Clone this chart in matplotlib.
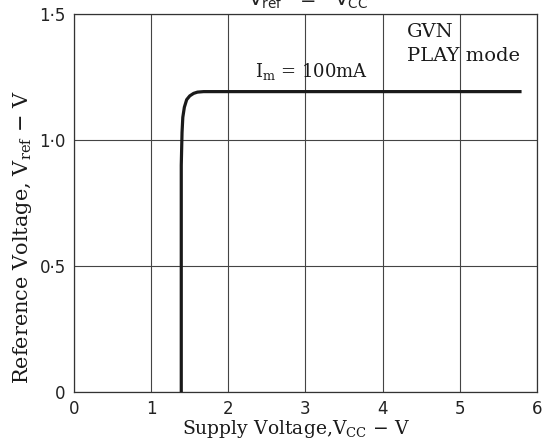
import matplotlib.pyplot as plt

plt.rcParams['mathtext.fontset'] = 'dejavuserif'

# supply voltage (V) vs reference voltage (V)
vcc = [1.39, 1.39, 1.40, 1.41, 1.43, 1.46, 1.50, 1.55, 1.60, 1.68, 5.80]
vref = [0.0, 0.90, 1.03, 1.09, 1.13, 1.16, 1.175, 1.185, 1.19, 1.192, 1.192]

x_ticks = [0, 1, 2, 3, 4, 5, 6]
y_ticks = [0, 0.5, 1.0, 1.5]
y_tick_labels = ['0', '0·5', '1·0', '1·5']

serif = 'DejaVu Serif'
sans = 'DejaVu Sans'

fig = plt.figure(figsize=(5.47, 4.47), dpi=100)
ax = fig.add_axes([0.1353, 0.123, 0.8464, 0.8457])

ax.plot(vcc, vref, color='#1a1a1a', lw=2.3, solid_capstyle='butt', zorder=3)

ax.set_xlim(0, 6)
ax.set_ylim(0, 1.5)
ax.set_xticks(x_ticks)
ax.set_yticks(y_ticks)
ax.set_yticklabels(y_tick_labels)
ax.tick_params(length=0, pad=6, labelsize=12)
for lab in ax.get_xticklabels() + ax.get_yticklabels():
    lab.set_fontfamily(sans)
    lab.set_color('#222222')
ax.grid(True, color='#444444', lw=0.8)
for sp in ax.spines.values():
    sp.set_color('#333333')
    sp.set_linewidth(0.9)

ax.set_xlabel(r'Supply Voltage,V$_{\rm CC}$ $-$ V', family=serif, fontsize=13.5,
              labelpad=0, color='#1a1a1a', x=0.48)
ax.set_ylabel(r'Reference Voltage, V$_{\rm ref}$ $-$ V', family=serif, fontsize=15,
              labelpad=4, color='#1a1a1a', y=0.41)

ax.text(2.34, 1.27, r'I$_{\rm m}$ = 100mA', family=serif, fontsize=13, va='center',
        color='#1a1a1a')
ax.text(4.31, 1.43, 'GVN', family=serif, fontsize=14, va='center', color='#1a1a1a')
ax.text(4.31, 1.335, 'PLAY mode', family=serif, fontsize=14, va='center', color='#1a1a1a')

# heading sits just above the frame, mostly off the top edge
fig.text(308 / 547, 1 - 6 / 447, r'$\mathsf{V_{ref}}$   =   $\mathsf{V_{CC}}$', family=sans,
         fontsize=14, ha='center', va='baseline', color='#222222')

fig.savefig('out.png', dpi=100)
